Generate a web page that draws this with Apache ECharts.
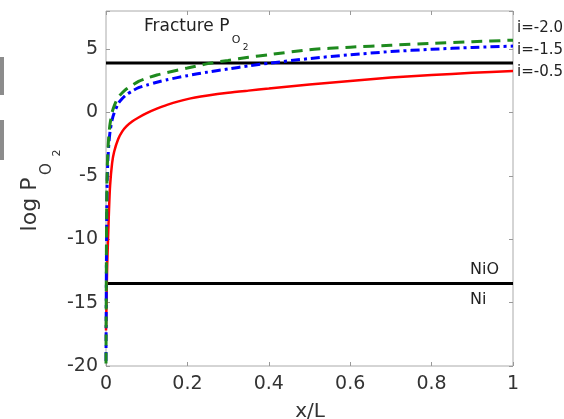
<!DOCTYPE html>
<html><head><meta charset="utf-8">
<script src="https://cdn.jsdelivr.net/npm/echarts@6/dist/echarts.min.js"></script>
<style>html,body{margin:0;padding:0;background:#fff}#c{width:564px;height:419px}</style>
</head><body><div id="c"></div>
<script>
const xs =     [0, 0.001, 0.002, 0.003, 0.005, 0.0075, 0.01, 0.015, 0.02, 0.03, 0.04, 0.05, 0.065, 0.08, 0.1, 0.125, 0.15, 0.2, 0.25, 0.3, 0.35, 0.4, 0.5, 0.6, 0.7, 0.8, 0.9, 1.0];
const iNeg05 = [-17.2, -15.5, -13.5, -12, -10, -7.6, -5.8, -4, -3.1, -2.1, -1.5, -1.1, -0.7, -0.4, -0.05, 0.3, 0.6, 1.05, 1.33, 1.55, 1.72, 1.88, 2.2, 2.48, 2.75, 2.95, 3.12, 3.27];
const iNeg15 = [-19.6, -12, -7.5, -5.3, -3.5, -2.3, -1.5, -0.6, -0.05, 0.7, 1.1, 1.4, 1.7, 1.95, 2.15, 2.38, 2.58, 2.9, 3.18, 3.43, 3.67, 3.88, 4.25, 4.55, 4.8, 4.98, 5.12, 5.23];
const iNeg20 = [-19.8, -11, -6.5, -4.5, -2.8, -1.6, -0.9, 0, 0.5, 1.2, 1.55, 1.85, 2.15, 2.45, 2.7, 2.95, 3.15, 3.5, 3.85, 4.1, 4.35, 4.55, 4.95, 5.15, 5.3, 5.45, 5.58, 5.7];
const fractureLogPO2 = 3.9;
const niNiOLogPO2 = -13.5;
const seriesNames = ['i=-2.0', 'i=-1.5', 'i=-0.5'];
const xTicks = [0, 0.2, 0.4, 0.6, 0.8, 1];
const yTicks = [-20, -15, -10, -5, 0, 5];

const pair = (ys) => xs.map((x, k) => [x, ys[k]]);
const FONT = 'DejaVu Sans';
const chart = echarts.init(document.getElementById('c'));
const G = {left: 106, right: 51, top: 11, bottom: 53};
const axisCommon = {
  axisLine: {show: false, onZero: false},
  splitLine: {show: false},
  axisTick: {inside: true, length: 4, lineStyle: {color: '#999'}}
};
chart.setOption({
  animation: false,
  grid: {left: G.left, right: G.right, top: G.top, bottom: G.bottom, show: true, borderColor: '#aaa', borderWidth: 1},
  xAxis: [
    Object.assign({type: 'value', min: 0, max: 1, interval: 0.2, position: 'bottom',
      axisLabel: {fontFamily: FONT, fontSize: 19, color: '#333', margin: 9,
        formatter: v => xTicks.indexOf(Math.round(v*10)/10) >= 0 ? String(Math.round(v*10)/10) : ''}}, axisCommon),
    Object.assign({type: 'value', min: 0, max: 1, interval: 0.2, position: 'top', axisLabel: {show: false}}, axisCommon)
  ],
  yAxis: [
    Object.assign({type: 'value', min: -20, max: 8, interval: 5, position: 'left',
      axisLabel: {fontFamily: FONT, fontSize: 19, color: '#333', margin: 8,
        formatter: v => yTicks.indexOf(v) >= 0 ? String(v) : ''}}, axisCommon),
    Object.assign({type: 'value', min: -20, max: 8, interval: 5, position: 'right', axisLabel: {show: false}}, axisCommon)
  ],
  series: [
    {type: 'line', name: 'fracture', data: [[0, fractureLogPO2], [1, fractureLogPO2]], symbol: 'none',
      lineStyle: {color: '#000', width: 3}, z: 1},
    {type: 'line', name: 'NiO/Ni', data: [[0, niNiOLogPO2], [1, niNiOLogPO2]], symbol: 'none',
      lineStyle: {color: '#000', width: 3}, z: 1},
    {type: 'line', name: seriesNames[2], data: pair(iNeg05), symbol: 'none', smooth: 0.25,
      lineStyle: {color: '#ff0000', width: 2.5}, z: 3},
    {type: 'line', name: seriesNames[1], data: pair(iNeg15), symbol: 'none', smooth: 0.25,
      lineStyle: {color: '#0000ff', width: 3, type: [9, 4, 3, 4]}, z: 4},
    {type: 'line', name: seriesNames[0], data: pair(iNeg20), symbol: 'none', smooth: 0.25,
      lineStyle: {color: '#1e8a1e', width: 3, type: [11, 7]}, z: 5}
  ],
  graphic: [
    {type: 'rect', left: 0, top: 57, shape: {width: 4, height: 38}, style: {fill: '#8c8c8c'}},
    {type: 'rect', left: 0, top: 120, shape: {width: 4, height: 40}, style: {fill: '#8c8c8c'}},
    {type: 'text', x: 144, y: 27, style: {text: 'Fracture P', font: '17px "DejaVu Sans"', fill: '#222', verticalAlign: 'middle'}},
    {type: 'text', x: 236, y: 40.5, style: {text: 'O', font: '11px "DejaVu Sans"', fill: '#222', align: 'center', verticalAlign: 'middle'}},
    {type: 'text', x: 245.5, y: 47.5, style: {text: '2', font: '9px "DejaVu Sans"', fill: '#222', align: 'center', verticalAlign: 'middle'}},
    {type: 'text', x: 517, y: 28, style: {text: seriesNames[0], font: '15px "DejaVu Sans"', fill: '#222', verticalAlign: 'middle'}},
    {type: 'text', x: 517, y: 50, style: {text: seriesNames[1], font: '15px "DejaVu Sans"', fill: '#222', verticalAlign: 'middle'}},
    {type: 'text', x: 517, y: 72, style: {text: seriesNames[2], font: '15px "DejaVu Sans"', fill: '#222', verticalAlign: 'middle'}},
    {type: 'text', x: 470, y: 270, style: {text: 'NiO', font: '16px "DejaVu Sans"', fill: '#222', verticalAlign: 'middle'}},
    {type: 'text', x: 470, y: 300, style: {text: 'Ni', font: '16px "DejaVu Sans"', fill: '#222', verticalAlign: 'middle'}},
    {type: 'text', x: 310, y: 412, style: {text: 'x/L', font: '20px "DejaVu Sans"', fill: '#333', align: 'center', verticalAlign: 'middle'}},
    {type: 'text', x: 30, y: 204.5, rotation: Math.PI/2, style: {text: 'log P', font: '22px "DejaVu Sans"', fill: '#333', align: 'center', verticalAlign: 'middle'}},
    {type: 'text', x: 47.5, y: 169, rotation: Math.PI/2, style: {text: 'O', font: '15px "DejaVu Sans"', fill: '#333', align: 'center', verticalAlign: 'middle'}},
    {type: 'text', x: 57.5, y: 153, rotation: Math.PI/2, style: {text: '2', font: '11px "DejaVu Sans"', fill: '#333', align: 'center', verticalAlign: 'middle'}}
  ]
});
</script></body></html>
